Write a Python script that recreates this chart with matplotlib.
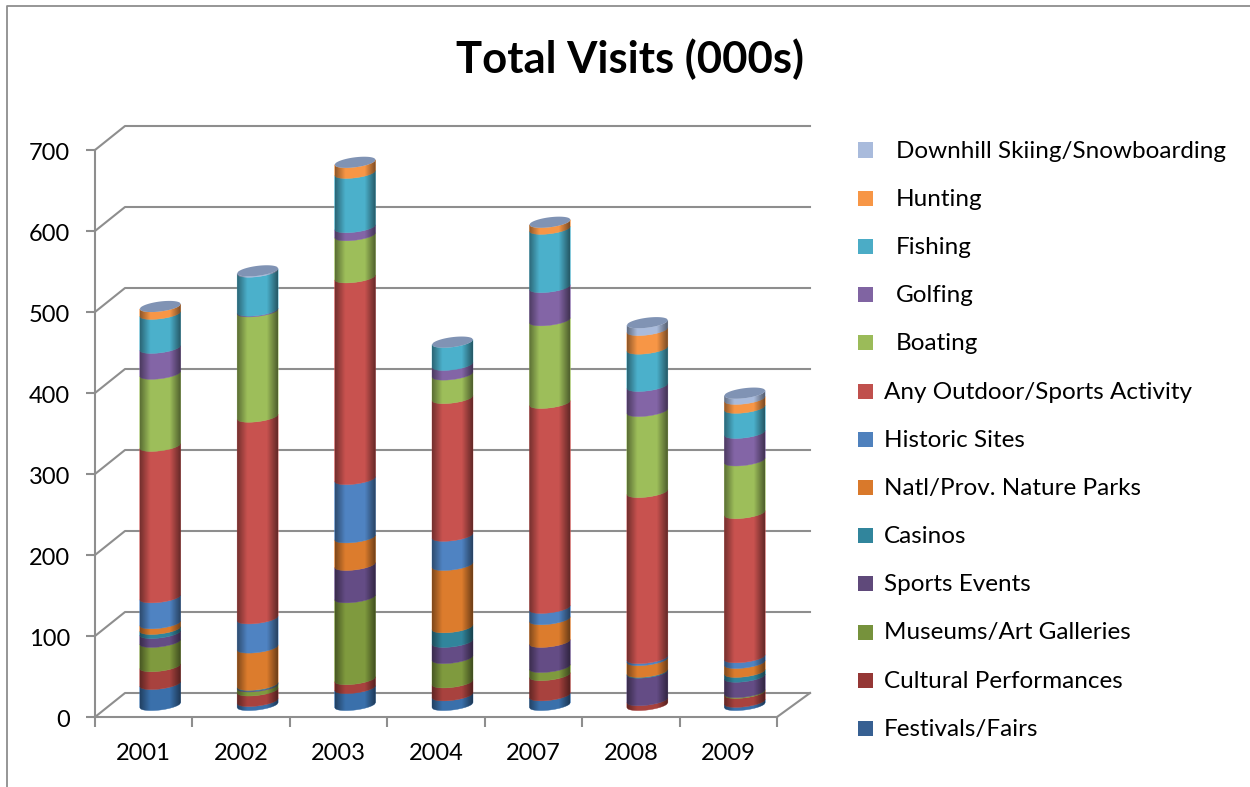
import matplotlib
matplotlib.use("Agg")
import matplotlib.pyplot as plt
import numpy as np
from matplotlib.lines import Line2D
from matplotlib.patches import Rectangle
from matplotlib.transforms import ScaledTranslation

plt.rcParams['font.family'] = ['Lato', 'DejaVu Sans']

years = ['2001', '2002', '2003', '2004', '2007', '2008', '2009']

festivals = [26, 5, 21, 12, 12, 0, 4]
cultural = [22, 13, 11, 16, 25, 6, 11]
museums = [30, 5, 101, 30, 10, 0, 1]
sports = [11, 1, 40, 20, 31, 34, 19]
casinos = [5, 1, 0, 18, 0, 1, 6]
parks = [7, 46, 34, 77, 28, 14.5, 11]
historic = [32, 36, 72, 36, 14, 2.5, 7]
outdoor = [187, 249, 249, 170, 253, 205, 178]
boating = [89, 130, 52, 29, 102, 100, 65]
golfing = [32, 1, 10, 12, 41, 31, 34]
fishing = [42, 48, 67, 28, 72, 46, 31]
hunting = [9, 0, 13, 0, 8, 23, 11]
skiing = [0, 1, 0, 0, 0, 9, 7]

series = [festivals, cultural, museums, sports, casinos, parks, historic,
          outdoor, boating, golfing, fishing, hunting, skiing]
labels = ['Festivals/Fairs', 'Cultural Performances', 'Museums/Art Galleries',
          'Sports Events', 'Casinos', 'Natl/Prov. Nature Parks', 'Historic Sites',
          'Any Outdoor/Sports Activity', 'Boating', 'Golfing', 'Fishing',
          'Hunting', 'Downhill Skiing/Snowboarding']
colors = ['#3a70ab', '#a8423e', '#7f9a3e', '#644c85', '#31859c', '#dc7c2d', '#4f83c2',
          '#c8524f', '#9dbe5a', '#8365a6', '#4bb0cb', '#f79646', '#a9bbdc']
legend_colors = ['#376092', '#953735', '#76923c', '#5f497a', '#31859c', '#d9792b', '#4f81bd',
                 '#c0504d', '#9bbb59', '#8064a2', '#4bacc6', '#f79646', '#a9bbdc']

W, H = 1250, 787
GREY = '#8e8e8e'

fig = plt.figure(figsize=(W / 100, H / 100), dpi=100)
ax = fig.add_axes([95 / W, 1 - 717 / H, 682 / W, 567 / H])
ax.set_facecolor('none')

px_x = 7 / 682
px_y = 700 / 567

# back wall and the slanted lines up to it
back_dx = 30 * px_x
back_dy = 24 * px_y
for v in range(0, 800, 100):
    ax.plot([0, back_dx, 7 + 33 * px_x], [v, v + back_dy, v + back_dy],
            color=GREY, lw=1.5, clip_on=False, zorder=1, solid_joinstyle='round')
ax.plot([7, 7 + 33 * px_x], [0, back_dy], color=GREY, lw=1.5, clip_on=False, zorder=1)

# cylinders
half_w = 20.5 * px_x
ell_h = 5 * px_y
tilt = 2.5 * px_y
base = 12 * px_y
shift = 16.5 * px_x
t = np.linspace(-1, 1, 41)

shade = np.zeros((1, 80, 4))
u = np.linspace(0, 1, 80)
shade[0, :, 3] = np.clip(0.42 * (1 - u / 0.25), 0, None) + np.clip(0.5 * (u - 0.73) / 0.27, 0, None)

for i in range(len(years)):
    xc = i + 0.5 + shift
    xs = xc + t * half_w
    bottom = 0
    for vals, col in zip(series, colors):
        top = bottom + vals[i]
        if vals[i] > 0:
            low = base + bottom + tilt * t - ell_h * np.sqrt(1 - t ** 2)
            high = base + top + tilt * t - ell_h * np.sqrt(1 - t ** 2)
            ax.fill(np.r_[xs, xs[::-1]], np.r_[low, high[::-1]], color=col, lw=0.3,
                    zorder=3, clip_on=False)
        bottom = top
    low = base + tilt * t - ell_h * np.sqrt(1 - t ** 2)
    high = base + bottom + tilt * t - ell_h * np.sqrt(1 - t ** 2)
    outline = ax.fill(np.r_[xs, xs[::-1]], np.r_[low, high[::-1]], color='none', lw=0,
                      zorder=3, clip_on=False)[0]
    img = ax.imshow(shade, extent=(xc - half_w, xc + half_w, 0, bottom + 40), aspect='auto',
                    interpolation='bilinear', zorder=4, clip_on=True)
    img.set_clip_path(outline)
    # flat top of the cylinder
    up = base + bottom + tilt * t + ell_h * np.sqrt(1 - t ** 2)
    dn = base + bottom + tilt * t - ell_h * np.sqrt(1 - t ** 2)
    ax.fill(np.r_[xs, xs[::-1]], np.r_[dn, up[::-1]], color='#8093b4', lw=0, zorder=5,
            clip_on=False)

ax.set_xlim(0, 7)
ax.set_ylim(0, 700)
ax.set_xticks(range(8))
ax.set_xticklabels([])
ax.set_xticks(np.arange(7) + 0.5, years, minor=True)
ax.set_yticks(range(0, 800, 100))
ax.tick_params(axis='x', which='major', length=7, width=1.5, color=GREY)
ax.tick_params(axis='x', which='minor', length=0, labelsize=17, pad=19)
ax.tick_params(axis='y', length=6.5, width=1.5, color=GREY, labelsize=17, pad=11.5)
# labels sit a little under their ticks
nudge = ScaledTranslation(0, -1.5 / 100, fig.dpi_scale_trans)
for lab in ax.get_yticklabels():
    lab.set_transform(lab.get_transform() + nudge)
for side in ['top', 'right']:
    ax.spines[side].set_visible(False)
for side in ['left', 'bottom']:
    ax.spines[side].set_color(GREY)
    ax.spines[side].set_linewidth(1.5)

fig.text(630 / W, 1 - 59 / H, 'Total Visits (000s)', fontsize=31.4, fontweight='bold',
         ha='center', va='center')

# legend, top entry first
for k, (lab, col) in enumerate(zip(labels[::-1], legend_colors[::-1])):
    yy = 150 + k * 48.2
    fig.add_artist(Rectangle((858 / W, 1 - (yy + 7.5) / H), 15 / W, 15 / H, color=col,
                             lw=0, transform=fig.transFigure))
    tx = 896 if k < 5 else 884
    fig.text(tx / W, 1 - (yy + 1) / H, lab, fontsize=17.5, ha='left', va='center')

# chart border
fig.add_artist(Line2D([7 / W, 7 / W, 1], [0, 1 - 5.5 / H, 1 - 5.5 / H], color=GREY, lw=1.3,
                      transform=fig.transFigure))

fig.savefig('out.png', dpi=100)
